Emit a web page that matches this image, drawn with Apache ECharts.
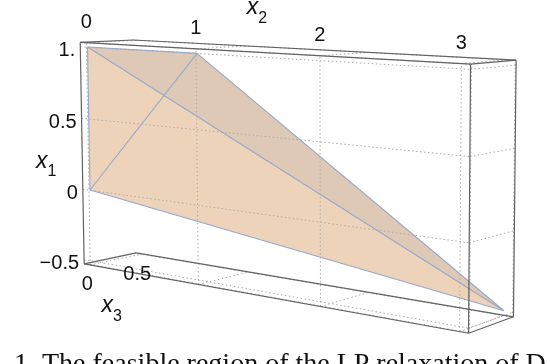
<!DOCTYPE html>
<html>
<head>
<meta charset="utf-8">
<script src="https://cdn.jsdelivr.net/npm/echarts@6/dist/echarts.min.js"></script>
<style>
  html, body { margin: 0; padding: 0; background: #fff; }
  #chart { width: 550px; height: 364px; }
</style>
</head>
<body>
<div id="chart"></div>
<script>
// ---- data ----
const x1Ticks = [-0.5, 0, 0.5, 1];
const x1TickLabels = ['\u22120.5', '0', '0.5', '1.'];
const x2Ticks = [0, 1, 2, 3];
const x2TickLabels = ['0', '1', '2', '3'];
const x3Ticks = [0, 0.5];
const x3TickLabels = ['0', '0.5'];
const x1Range = [-0.5, 1];
const x2Range = [0, 3];
const x3Range = [0, 0.5];

// vertices of the feasible region (x1, x2, x3)
const vertexX1 = [1, 1, 0, -0.5];
const vertexX2 = [0, 1, 0, 3];
const vertexX3 = [0, 0, 0, 0.5];
// faces: ABD, ACD (back), ABC, BCD (front)
const faces = [[0, 1, 3], [0, 2, 3], [0, 1, 2], [1, 2, 3]];
const edges = [[0, 1], [0, 2], [0, 3], [1, 2], [1, 3], [2, 3]];

const caption = '1. The feasible region of the LP relaxation of D';

// ---- styles ----
const faceColors = ['#dcc7b5', '#ecd3b9', '#f0d6bc', '#f0d6bc'];
const faceOpacity = [1, 1, 0.12, 0.12];
const FONT = '"Liberation Sans", Arial, sans-serif';

// perspective camera (columns: x2, x1, x3, 1) -> screen
const CAM = [
  [97.1, -3.3, 111.5, 90],
  [3.2, -143.4, -1.5, 190],
  [-0.0577, -0.00927, 0.078, 1]
];
function project(x1, x2, x3) {
  const d = CAM[2][0] * x2 + CAM[2][1] * x1 + CAM[2][2] * x3 + CAM[2][3];
  return [
    (CAM[0][0] * x2 + CAM[0][1] * x1 + CAM[0][2] * x3 + CAM[0][3]) / d,
    (CAM[1][0] * x2 + CAM[1][1] * x1 + CAM[1][2] * x3 + CAM[1][3]) / d
  ];
}
function padded(r) { const p = (r[1] - r[0]) * 0.02; return [r[0] - p, r[1] + p]; }
const V = padded(x1Range), U = padded(x2Range), W = padded(x3Range);

// box edges (x1, x2, x3)
const boxEdges = [];
[V[0], V[1]].forEach(a => [W[0], W[1]].forEach(c => boxEdges.push([[a, U[0], c], [a, U[1], c]])));
[V[0], V[1]].forEach(a => [U[0], U[1]].forEach(b => boxEdges.push([[a, b, W[0]], [a, b, W[1]]])));
[U[0], U[1]].forEach(b => [W[0], W[1]].forEach(c => {
  if (!(b === U[0] && c === W[1])) boxEdges.push([[V[0], b, c], [V[1], b, c]]);
}));

// face grids
const gridLines = [];
x2Ticks.forEach(t => gridLines.push([[V[0], t, W[0]], [V[1], t, W[0]]]));
x1Ticks.forEach(t => gridLines.push([[t, U[0], W[0]], [t, U[1], W[0]]]));
x1Ticks.forEach(t => gridLines.push([[t, U[1], W[0]], [t, U[1], W[1]]]));
x3Ticks.forEach(t => gridLines.push([[V[0], U[1], t], [V[1], U[1], t]]));
[V[0], V[1]].forEach(a => {
  x2Ticks.forEach(t => gridLines.push([[a, t, W[0]], [a, t, W[1]]]));
  x3Ticks.forEach(t => gridLines.push([[a, U[0], t], [a, U[1], t]]));
});

const tetraEdges = edges.map(e => e.map(i => [vertexX1[i], vertexX2[i], vertexX3[i]]));

// tick labels: anchor point in data space + screen offset
const labels = [];
x2Ticks.forEach((t, i) => labels.push({ p: [V[1], t, W[0]], dx: 0, dy: -20, text: x2TickLabels[i], align: 'center' }));
x1Ticks.forEach((t, i) => labels.push({ p: [t, U[0], W[0]], dx: -5, dy: 4, text: x1TickLabels[i], align: 'right' }));
x3Ticks.forEach((t, i) => labels.push({ p: [V[0], U[0], t], dx: 2, dy: 21, text: x3TickLabels[i], align: 'center' }));
const titles = [
  { p: [V[1], 1.5, W[0]], dx: 1, dy: -41, n: '2' },
  { p: [0.25, U[0], W[0]], dx: -36, dy: 11, n: '1' },
  { p: [V[0], U[0], 0.25], dx: 1, dy: 51, n: '3' }
];

function segSeries(segs, style, z) {
  return {
    type: 'custom', coordinateSystem: 'cartesian2d', silent: true, z: z, clip: false,
    data: segs.map((s, i) => [i, 0]),
    renderItem: function (params, api) {
      const s = segs[api.value(0)];
      const p = api.coord(project(s[0][0], s[0][1], s[0][2]));
      const q = api.coord(project(s[1][0], s[1][1], s[1][2]));
      return { type: 'line', shape: { x1: p[0], y1: p[1], x2: q[0], y2: q[1] }, style: Object.assign({ fill: null }, style) };
    }
  };
}
function faceSeries(idx, z) {
  return {
    type: 'custom', coordinateSystem: 'cartesian2d', silent: true, z: z, clip: false,
    data: idx.map(i => [i, 0]),
    renderItem: function (params, api) {
      const f = api.value(0);
      const pts = faces[f].map(i => api.coord(project(vertexX1[i], vertexX2[i], vertexX3[i])));
      return { type: 'polygon', shape: { points: pts }, style: { fill: faceColors[f], opacity: faceOpacity[f] } };
    }
  };
}

const myChart = echarts.init(document.getElementById('chart'));
const option = {
  animation: false,
  grid: { left: 0, right: 0, top: 0, bottom: 0 },
  xAxis: { type: 'value', min: 0, max: 550, show: false },
  yAxis: { type: 'value', min: 0, max: 364, inverse: true, show: false },
  series: [
    faceSeries([0, 1], 1),
    segSeries(gridLines, { stroke: '#a8a8a8', lineWidth: 1, lineDash: [1.5, 2.5] }, 2),
    faceSeries([2, 3], 3),
    segSeries(tetraEdges, { stroke: '#97a8c8', lineWidth: 1.1 }, 4),
    segSeries(boxEdges, { stroke: '#626262', lineWidth: 1.2 }, 5),
    {
      type: 'custom', coordinateSystem: 'cartesian2d', silent: true, z: 6, clip: false,
      data: labels.map((l, i) => [i, 0]),
      renderItem: function (params, api) {
        const l = labels[api.value(0)];
        const p = api.coord(project(l.p[0], l.p[1], l.p[2]));
        return { type: 'text', x: p[0] + l.dx, y: p[1] + l.dy,
          style: { text: l.text, fill: '#111', font: '20px ' + FONT, align: l.align, verticalAlign: 'middle' } };
      }
    },
    {
      type: 'custom', coordinateSystem: 'cartesian2d', silent: true, z: 6, clip: false,
      data: titles.map((l, i) => [i, 0]),
      renderItem: function (params, api) {
        const l = titles[api.value(0)];
        const p = api.coord(project(l.p[0], l.p[1], l.p[2]));
        return { type: 'text', x: p[0] + l.dx, y: p[1] + l.dy,
          style: { text: '{x|x}{s|' + l.n + '}', fill: '#111', align: 'center', verticalAlign: 'middle',
            rich: {
              x: { fontSize: 23, fontStyle: 'italic', fontFamily: FONT, padding: [0, 0, 7, 0], verticalAlign: 'top' },
              s: { fontSize: 16, fontFamily: FONT, verticalAlign: 'bottom' }
            } } };
      }
    }
  ],
  graphic: [
    { type: 'text', left: 14, top: 351, silent: true,
      style: { text: caption, fill: '#111', font: '28px "Liberation Serif", "Times New Roman", serif' } }
  ]
};
myChart.setOption(option);
</script>
</body>
</html>
